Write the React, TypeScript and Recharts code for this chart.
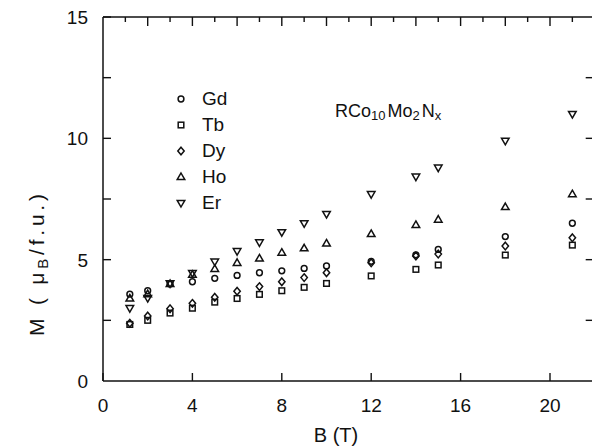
import { Label, Legend, ReferenceLine, Scatter, ScatterChart, XAxis, YAxis } from "recharts";

// B (T) measurement fields
const FIELD = [1.2, 2, 3, 4, 5, 6, 7, 8, 9, 10, 12, 14, 15, 18, 21];

// M (muB / f.u.) per rare earth
const GD = [3.58, 3.72, 4.0, 4.09, 4.23, 4.35, 4.46, 4.54, 4.64, 4.74, 4.93, 5.2, 5.42, 5.95, 6.5];
const TB = [2.33, 2.5, 2.8, 3.0, 3.25, 3.4, 3.57, 3.72, 3.86, 4.02, 4.33, 4.6, 4.78, 5.19, 5.6];
const DY = [2.38, 2.68, 2.98, 3.2, 3.45, 3.7, 3.89, 4.09, 4.26, 4.46, 4.87, 5.15, 5.23, 5.56, 5.9];
const HO = [3.4, 3.58, 4.0, 4.38, 4.62, 4.87, 5.05, 5.29, 5.47, 5.67, 6.06, 6.43, 6.65, 7.17, 7.7];
const ER = [3.0, 3.42, 4.02, 4.45, 4.92, 5.35, 5.71, 6.13, 6.5, 6.88, 7.7, 8.42, 8.79, 9.9, 11.0];

// every unit gets a tick on the top edge; labels every 4
const X_TICKS = [0, 1, 2, 3, 4, 5, 6, 7, 8, 9, 10, 11, 12, 13, 14, 15, 16, 17, 18, 19, 20, 21, 22];
const Y_TICKS = [0, 2.5, 5, 7.5, 10, 12.5, 15];

const INK = "#111";
const FONT = "'Liberation Sans', Arial, sans-serif";

// plot box (chart margins + axis sizes)
const TOP = 17;
const BOTTOM = 381;
const LEFT = 103;
const RIGHT = 594.7;

type Kind = "circle" | "square" | "diamond" | "up" | "down";

const SERIES: { name: string; values: number[]; kind: Kind }[] = [
  { name: "Gd", values: GD, kind: "circle" },
  { name: "Tb", values: TB, kind: "square" },
  { name: "Dy", values: DY, kind: "diamond" },
  { name: "Ho", values: HO, kind: "up" },
  { name: "Er", values: ER, kind: "down" },
];

const toPoints = (vals: number[]) => FIELD.map((b, i) => ({ b, m: vals[i] }));

function Marker({ kind, cx, cy }: { kind: Kind; cx: number; cy: number }) {
  const p = { fill: "none", stroke: INK, strokeWidth: 1.5 };
  switch (kind) {
    case "circle":
      return <circle cx={cx} cy={cy} r={2.9} {...p} />;
    case "square":
      return <rect x={cx - 2.8} y={cy - 2.8} width={5.6} height={5.6} {...p} />;
    case "diamond":
      return <polygon points={`${cx},${cy - 3.8} ${cx + 3.2},${cy} ${cx},${cy + 3.8} ${cx - 3.2},${cy}`} {...p} />;
    case "up":
      return <polygon points={`${cx},${cy - 4} ${cx + 3.8},${cy + 2.6} ${cx - 3.8},${cy + 2.6}`} {...p} />;
    default:
      return <polygon points={`${cx},${cy + 4} ${cx + 3.8},${cy - 2.6} ${cx - 3.8},${cy - 2.6}`} {...p} />;
  }
}

const tickStroke = { stroke: INK, strokeWidth: 1.4 };

// bottom ticks + labels, plus the matching ticks on the top frame
function XTick(props: any) {
  const v = props.payload.value as number;
  const x = props.payload.coordinate as number;
  const labelled = v % 4 === 0 && v <= 20;
  return (
    <g>
      {labelled && <line x1={x} x2={x} y1={BOTTOM} y2={BOTTOM - 8} {...tickStroke} />}
      {v > 0 && <line x1={x} x2={x} y1={TOP} y2={TOP + (v % 2 === 0 ? 9 : 5)} {...tickStroke} />}
      {labelled && (
        <text x={x} y={412} textAnchor="middle" fill={INK} fontSize={19} fontFamily={FONT}>
          {v}
        </text>
      )}
    </g>
  );
}

// left ticks + labels, plus the matching ticks on the right frame
function YTick(props: any) {
  const v = props.payload.value as number;
  const y = props.payload.coordinate as number;
  return (
    <g>
      {v > 0 && <line x1={LEFT} x2={LEFT + 8} y1={y} y2={y} {...tickStroke} />}
      {v > 0 && v < 15 && <line x1={RIGHT} x2={RIGHT - 9} y1={y} y2={y} {...tickStroke} />}
      {v % 5 === 0 && (
        <text x={88} y={y + 7} textAnchor="end" fill={INK} fontSize={19} fontFamily={FONT}>
          {v}
        </text>
      )}
    </g>
  );
}

function LegendBox() {
  return (
    <div style={{ fontFamily: FONT, fontSize: 19, color: INK }}>
      {SERIES.map((s) => (
        <div key={s.name} style={{ display: "flex", alignItems: "center", height: 26 }}>
          <svg width={16} height={16} style={{ marginRight: 13 }}>
            <Marker kind={s.kind} cx={8} cy={8} />
          </svg>
          <span>{s.name}</span>
        </div>
      ))}
    </div>
  );
}

const axisLine = { stroke: INK, strokeWidth: 1.5 };

export default function App() {
  return (
    <div style={{ position: "fixed", left: 0, top: 0, width: 592, height: 447, overflow: "hidden", background: "#fff" }}>
      <ScatterChart width={600} height={447} margin={{ top: TOP, right: 600 - RIGHT, bottom: 0, left: 0 }}>
        <XAxis
          xAxisId="b"
          dataKey="b"
          type="number"
          domain={[0, 22]}
          ticks={X_TICKS}
          interval={0}
          height={447 - BOTTOM}
          tickLine={false}
          axisLine={axisLine}
          tick={<XTick />}
        >
          <Label
            content={() => (
              <text x={336} y={442} textAnchor="middle" fill={INK} fontSize={20} fontFamily={FONT}>
                B (T)
              </text>
            )}
          />
        </XAxis>
        <YAxis
          yAxisId="l"
          dataKey="m"
          type="number"
          domain={[0, 15]}
          ticks={Y_TICKS}
          interval={0}
          width={LEFT}
          tickLine={false}
          axisLine={axisLine}
          tick={<YTick />}
        >
          <Label
            content={() => (
              <text
                x={44}
                y={265}
                transform="rotate(-90 44 265)"
                textAnchor="middle"
                fill={INK}
                fontSize={21}
                fontFamily={FONT}
                textLength={142}
                lengthAdjust="spacing"
              >
                M ( μ<tspan fontSize={15} dy={4}>B</tspan>
                <tspan dy={-4}>/f.u.)</tspan>
              </text>
            )}
          />
        </YAxis>
        <ReferenceLine xAxisId="b" yAxisId="l" y={15} stroke={INK} strokeWidth={1.5} />
        <ReferenceLine xAxisId="b" yAxisId="l" x={22} stroke={INK} strokeWidth={1.5} />
        <Legend
          layout="vertical"
          align="center"
          verticalAlign="middle"
          content={() => <LegendBox />}
          wrapperStyle={{ left: 173, top: 86, width: "auto", height: "auto" }}
        />
        {SERIES.map((s) => (
          <Scatter
            key={s.name}
            name={s.name}
            xAxisId="b"
            yAxisId="l"
            data={toPoints(s.values)}
            isAnimationActive={false}
            shape={(props: any) => <Marker kind={s.kind} cx={props.cx} cy={props.cy} />}
          />
        ))}
      </ScatterChart>
      <svg width={592} height={447} style={{ position: "absolute", left: 0, top: 0, pointerEvents: "none" }}>
        <text x={335} y={117} fill={INK} fontSize={18} fontFamily={FONT}>
          RCo<tspan fontSize={13} dy={3}>10</tspan>
          <tspan dy={-3} dx={2}>Mo</tspan>
          <tspan fontSize={13} dy={3}>2</tspan>
          <tspan dy={-3} dx={2}>N</tspan>
          <tspan fontSize={13} dy={3}>x</tspan>
        </text>
      </svg>
    </div>
  );
}
